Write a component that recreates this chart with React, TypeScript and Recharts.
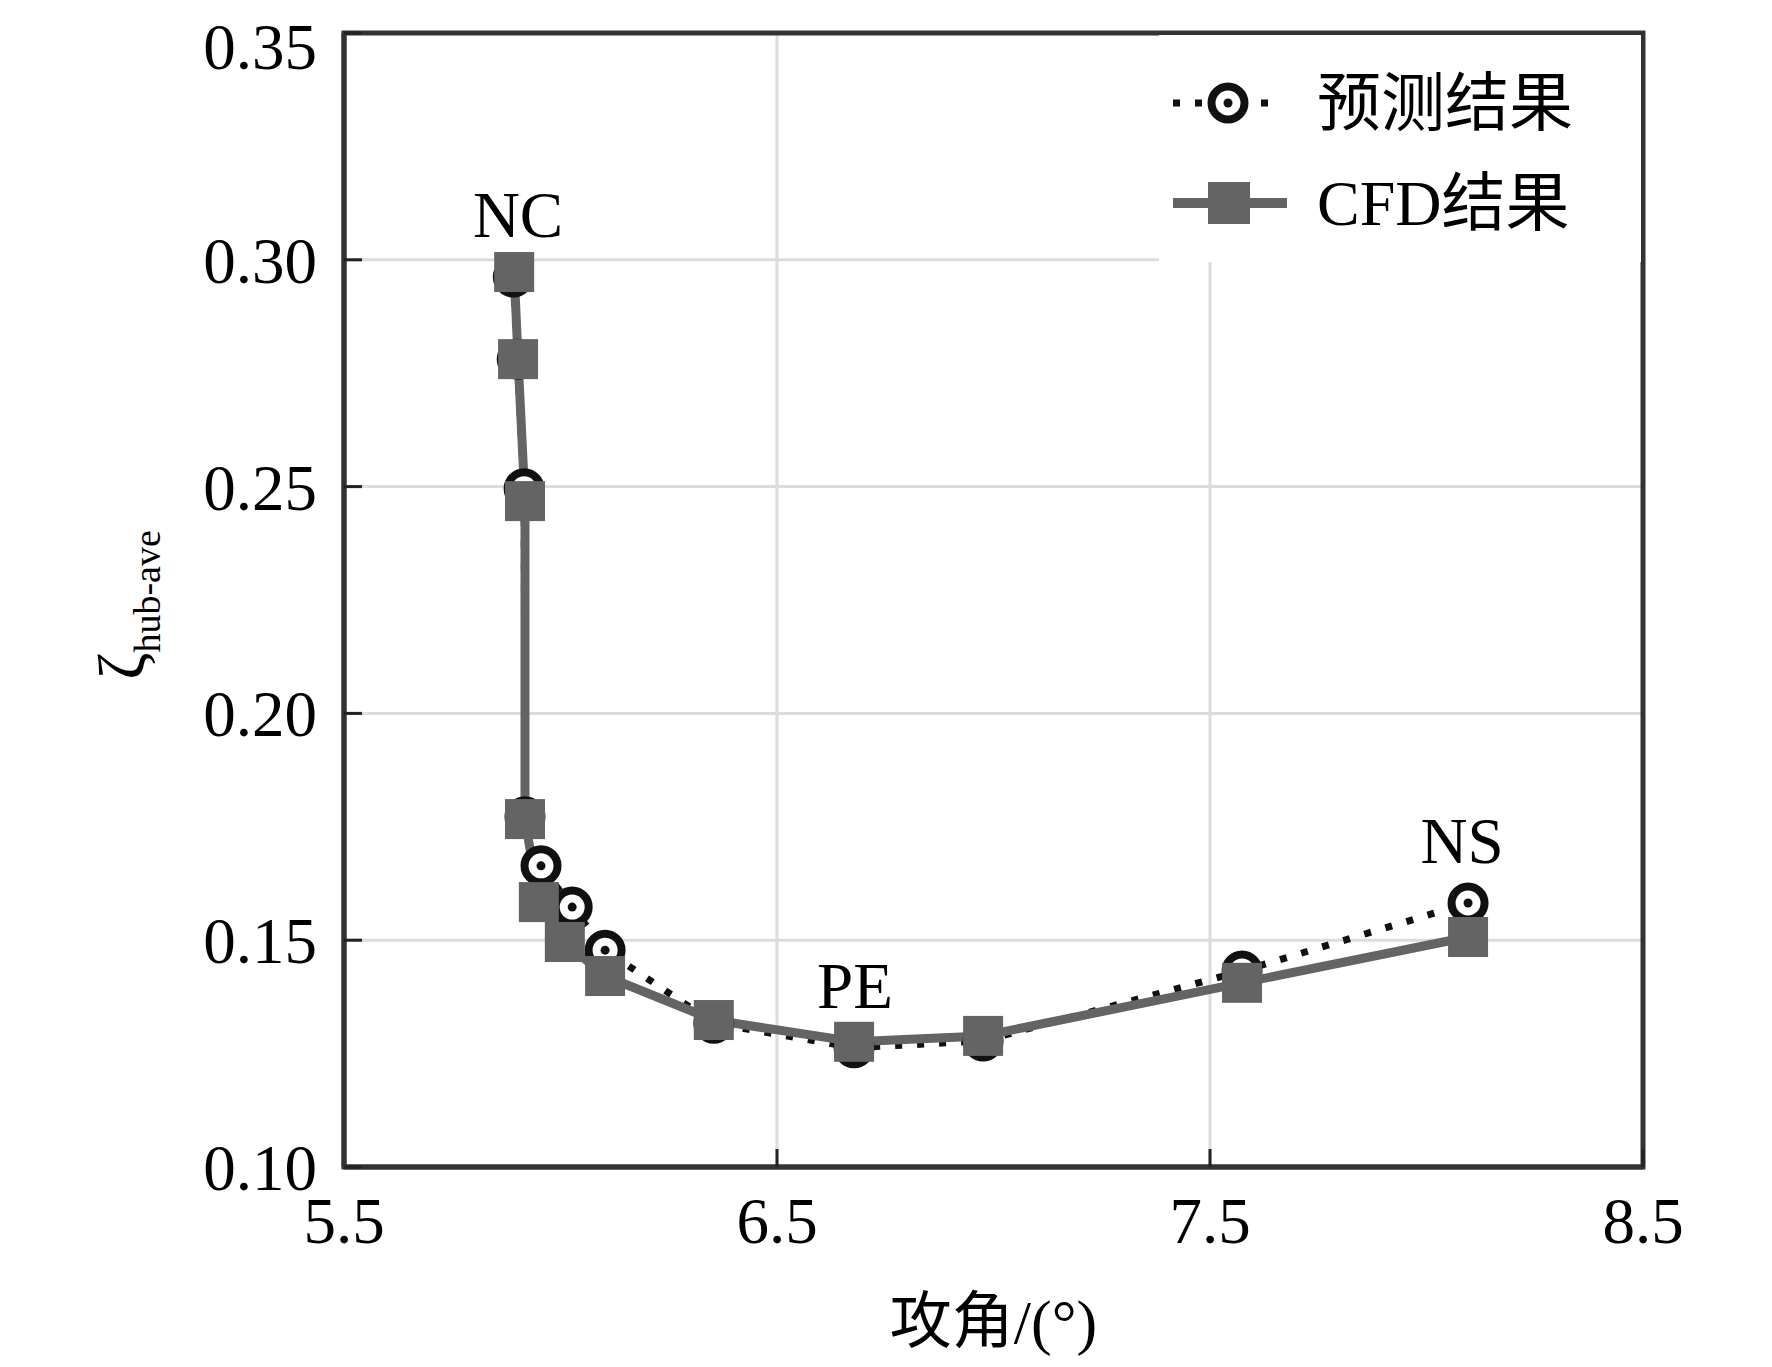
import React from 'react';
import {LineChart, Line, XAxis, YAxis, CartesianGrid, Legend, ReferenceArea, ReferenceDot} from 'recharts';

const xTicks = [5.5, 6.5, 7.5, 8.5];
const yTicks = [0.1, 0.15, 0.2, 0.25, 0.3, 0.35];

const predX = [5.891, 5.900, 5.916, 5.918, 5.955, 6.027, 6.103, 6.354, 6.678, 6.976, 7.574, 8.096];
const predY = [0.2962, 0.2781, 0.2495, 0.1772, 0.1664, 0.1573, 0.1478, 0.1317, 0.1263, 0.1278, 0.1432, 0.1582];
const cfdX = [5.893, 5.902, 5.918, 5.918, 5.950, 6.010, 6.103, 6.354, 6.678, 6.976, 7.574, 8.096];
const cfdY = [0.2973, 0.2781, 0.2468, 0.1767, 0.1584, 0.1496, 0.1421, 0.1324, 0.1276, 0.1289, 0.1406, 0.1507];

const pointLabels = ['NC', 'PE', 'NS'];
const labelX = [5.902, 6.680, 8.082];
const labelY = [0.305, 0.1351, 0.167];

const predData = predX.map((x, i) => ({x, y: predY[i]}));
const cfdData = cfdX.map((x, i) => ({x, y: cfdY[i]}));

const FONT = "'Liberation Serif', 'Times New Roman', 'Noto Sans CJK SC', serif";
const GRAY = '#646464';
const DARK = '#111';

const CircleMark = (props: any) => {
    const {cx, cy} = props;
    return (
        <g>
            <circle cx={cx} cy={cy} r={16.5} fill="#fff" stroke={DARK} strokeWidth={8}/>
            <circle cx={cx} cy={cy} r={4.5} fill={DARK}/>
        </g>
    );
};

const SquareMark = (props: any) => {
    const {cx, cy} = props;
    return <rect x={cx - 20} y={cy - 20} width={40} height={40} fill={GRAY}/>;
};

const LegendBox = () => (
    <svg width={482} height={227} style={{display: 'block', background: '#fff'}}>
        <line x1={14} y1={68} x2={118} y2={68} stroke={DARK} strokeWidth={7} strokeDasharray="7 15"/>
        <circle cx={69} cy={68} r={16.5} fill="#fff" stroke={DARK} strokeWidth={8}/>
        <circle cx={69} cy={68} r={4.5} fill={DARK}/>
        <text x={158} y={68} dominantBaseline="central" fontSize={64} fontFamily={FONT} fill="#000">预测结果</text>
        <line x1={14} y1={168} x2={128} y2={168} stroke={GRAY} strokeWidth={10}/>
        <rect x={49} y={147} width={42} height={42} fill={GRAY}/>
        <text x={158} y={168} dominantBaseline="central" fontSize={64} fontFamily={FONT} fill="#000">CFD结果</text>
    </svg>
);

const YLabel = () => {
    const cx = 136;
    const cy = 597;
    return (
        <text x={cx} y={cy} transform={`rotate(-90 ${cx} ${cy})`} textAnchor="middle" fontFamily={FONT} fill="#000">
            <tspan fontSize={66}>ζ</tspan>
            <tspan fontSize={38} dy={16}>hub-ave</tspan>
        </text>
    );
};

const XLabel = (props: any) => {
    const {viewBox} = props;
    return (
        <text x={viewBox.x + viewBox.width / 2} y={viewBox.y + 155} textAnchor="middle" dominantBaseline="central"
            fontSize={62} fontFamily={FONT} fill="#000">攻角/(°)</text>
    );
};

const PointLabel = (text: string) => (props: any) => {
    const {viewBox} = props;
    return (
        <text x={viewBox.x + (viewBox.width || 0) / 2} y={viewBox.y + (viewBox.height || 0) / 2} textAnchor="middle"
            fontSize={65} fontFamily={FONT} fill="#000">{text}</text>
    );
};

export default function App() {
    return (
        <div style={{width: 1756, height: 1351}}>
            <LineChart width={1756} height={1351} margin={{top: 25, right: 121, bottom: 0, left: 0}}>
                <CartesianGrid stroke="#dcdcdc" strokeWidth={3}/>
                <XAxis
                    type="number"
                    dataKey="x"
                    domain={[5.5, 8.5]}
                    ticks={xTicks}
                    tickFormatter={(v: number) => v.toFixed(1)}
                    height={192}
                    axisLine={{stroke: '#333', strokeWidth: 5}}
                    tickLine={{stroke: '#222', strokeWidth: 3}}
                    tickSize={-18}
                    tickMargin={48}
                    tick={{fontSize: 65, fontFamily: FONT, fill: '#000'}}
                    label={<XLabel/>}
                />
                <YAxis
                    type="number"
                    dataKey="y"
                    domain={[0.1, 0.35]}
                    ticks={yTicks}
                    tickFormatter={(v: number) => v.toFixed(2)}
                    width={336}
                    axisLine={{stroke: '#333', strokeWidth: 5}}
                    tickLine={{stroke: '#222', strokeWidth: 3}}
                    tickSize={-18}
                    tickMargin={45}
                    tick={{fontSize: 65, fontFamily: FONT, fill: '#000'}}
                    label={<YLabel/>}
                />
                <Line
                    data={predData}
                    dataKey="y"
                    name="预测结果"
                    stroke={DARK}
                    strokeWidth={7}
                    strokeDasharray="7 15"
                    dot={(p: any) => <CircleMark key={`p${p.index}`} {...p}/>}
                    activeDot={false}
                    isAnimationActive={false}
                />
                <Line
                    data={cfdData}
                    dataKey="y"
                    name="CFD结果"
                    stroke={GRAY}
                    strokeWidth={9}
                    dot={(p: any) => <SquareMark key={`c${p.index}`} {...p}/>}
                    activeDot={false}
                    isAnimationActive={false}
                />
                <ReferenceArea x1={5.5} x2={8.5} y1={0.1} y2={0.35} fill="none" fillOpacity={0} stroke="#333" strokeWidth={5}/>
                {pointLabels.map((t, i) => (
                    <ReferenceDot key={t} x={labelX[i]} y={labelY[i]} r={0} fill="none" stroke="none" label={PointLabel(t)}/>
                ))}
                <Legend
                    layout="vertical"
                    align="center"
                    verticalAlign="middle"
                    content={() => <LegendBox/>}
                    wrapperStyle={{left: 1151, top: 27, width: 482, height: 227}}
                />
            </LineChart>
        </div>
    );
}
